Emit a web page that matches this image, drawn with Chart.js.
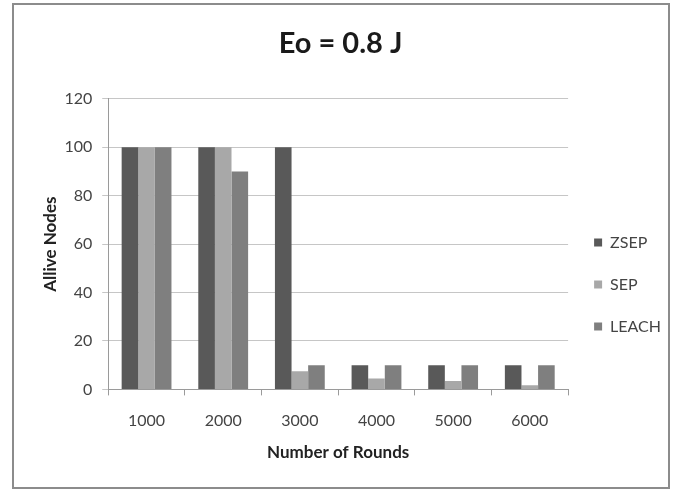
<!DOCTYPE html>
<html>
<head>
<meta charset="utf-8">
<script src="https://cdn.jsdelivr.net/npm/chart.js@4"></script>
<style>
html,body{margin:0;padding:0;background:#fff;}
#wrap{position:absolute;left:0;top:0;width:677px;height:492px;}
</style>
</head>
<body>
<div id="wrap"><canvas id="c" width="677" height="492"></canvas></div>
<script>
const categories = ['1000', '2000', '3000', '4000', '5000', '6000'];
const zsep = [100, 100, 100, 10, 10, 10];
const sep = [100, 100, 7.5, 4.5, 3.5, 1.7];
const leach = [100, 90, 10, 10, 10, 10];
const seriesNames = ['ZSEP', 'SEP', 'LEACH'];
const yTicks = [0, 20, 40, 60, 80, 100, 120];

const frame = {
  id: 'frame',
  beforeDraw(chart) {
    const ctx = chart.ctx;
    ctx.save();
    ctx.fillStyle = '#fff';
    ctx.fillRect(0, 0, chart.width, chart.height);
    ctx.strokeStyle = '#8c8c8c';
    ctx.lineWidth = 2;
    ctx.strokeRect(13, 4, 656, 484);
    ctx.restore();
  }
};

const font = "'Lato', 'Open Sans', sans-serif";

new Chart(document.getElementById('c'), {
  type: 'bar',
  data: {
    labels: categories,
    datasets: [
      { label: seriesNames[0], data: zsep, backgroundColor: '#595959' },
      { label: seriesNames[1], data: sep, backgroundColor: '#a8a8a8' },
      { label: seriesNames[2], data: leach, backgroundColor: '#7f7f7f' }
    ]
  },
  options: {
    responsive: false,
    animation: false,
    devicePixelRatio: 1,
    layout: { padding: { left: 10, right: 6, top: 12, bottom: 25 } },
    datasets: { bar: { categoryPercentage: 0.65, barPercentage: 1.0 } },
    plugins: {
      title: {
        display: true,
        text: 'Eo = 0.8 J',
        color: '#1a1a1a',
        font: { family: font, size: 29, weight: 'bold' },
        padding: { top: 14, bottom: 38 }
      },
      legend: {
        position: 'right',
        align: 'center',
        title: { display: true, text: ' ', font: { size: 10 }, padding: { top: 40, bottom: 38 } },
        labels: {
          color: '#444',
          font: { family: font, size: 16 },
          boxWidth: 8,
          boxHeight: 8,
          padding: 26
        }
      },
      tooltip: { enabled: false }
    },
    scales: {
      x: {
        grid: { display: true, drawOnChartArea: false, offset: true, tickLength: 6, color: '#9a9a9a' },
        border: { display: true, color: '#9a9a9a' },
        ticks: { color: '#444', font: { family: font, size: 16 }, padding: 16 },
        title: { display: true, text: 'Number of Rounds', color: '#222', font: { family: font, size: 17, weight: 'bold' }, padding: { top: -4, bottom: 4 } }
      },
      y: {
        min: 0,
        max: 120,
        afterBuildTicks(axis) { axis.ticks = yTicks.map(v => ({ value: v })); },
        grid: { color: '#c6c6c6', tickLength: 6 },
        border: { display: true, color: '#9a9a9a' },
        ticks: { color: '#444', font: { family: font, size: 16 }, padding: 10 },
        title: { display: true, text: 'Allive Nodes', color: '#222', font: { family: font, size: 17, weight: 'bold' }, padding: { top: 30, bottom: -6 } }
      }
    }
  },
  plugins: [frame]
});
</script>
</body>
</html>
